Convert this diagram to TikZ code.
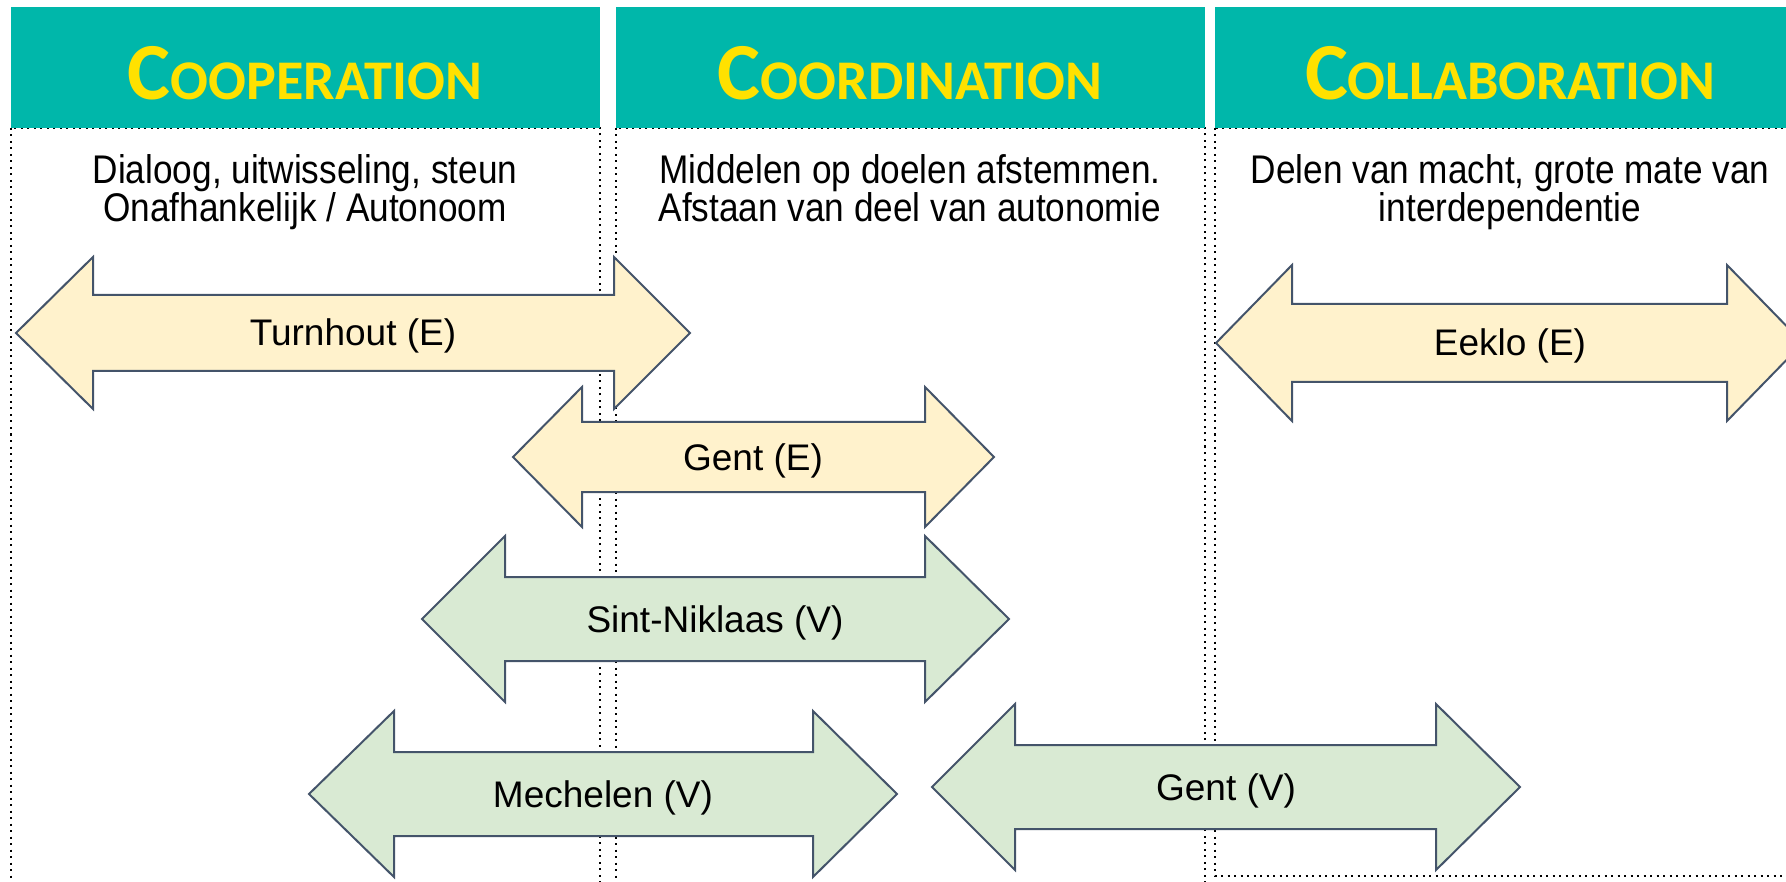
\documentclass[tikz,border=0pt]{standalone}
\usepackage{fontspec}
\setmainfont{Liberation Sans}
\newfontfamily\titlefont{Carlito}
\newfontfamily\subfont[FakeStretch=0.88]{Liberation Sans}
\definecolor{hdrteal}{HTML}{00B7AA}
\definecolor{ttlyellow}{HTML}{FFE100}
\definecolor{arryellow}{HTML}{FFF2CC}
\definecolor{arrgreen}{HTML}{D9EAD3}
\definecolor{arrline}{HTML}{44546A}
\newcommand\dblarrow[8]{%
  \draw[#1] (#2,#6) -- (#3,#6-#7) -- (#3,#6-#8) -- (#4,#6-#8) -- (#4,#6-#7) -- (#5,#6)
    -- (#4,#6+#7) -- (#4,#6+#8) -- (#3,#6+#8) -- (#3,#6+#7) -- cycle;}
\begin{document}
\begin{tikzpicture}[x=1pt,y=-1pt,
  hdr/.style={fill=hdrteal,draw=none,inner sep=0pt,anchor=north west},
  colbox/.style={draw=black,line width=2pt,dash pattern=on 2pt off 4.5pt},
  yarr/.style={fill=arryellow,draw=arrline,line width=2pt,line join=miter},
  garr/.style={fill=arrgreen,draw=arrline,line width=2pt,line join=miter},
  lbl/.style={font=\fontsize{37}{40}\selectfont,anchor=base,inner sep=0pt},
  ttl/.style={text=ttlyellow,anchor=base,inner sep=0pt,font=\titlefont\bfseries},
  sub/.style={font=\subfont\fontsize{40}{42}\selectfont,anchor=base,inner sep=0pt}]
\useasboundingbox (0,0) rectangle (1786,882);
\begin{scope}
\clip (0,0) rectangle (1786,882);
% column boxes
\draw[colbox] (11,128) rectangle (600,900);
\draw[colbox] (616,128) rectangle (1205,900);
\draw[colbox] (1215,128) rectangle (1830,876);
% headers
\node[hdr,minimum width=589pt,minimum height=121pt] (h1) at (11,7) {};
\node[hdr,minimum width=589pt,minimum height=121pt] (h2) at (616,7) {};
\node[hdr,minimum width=610pt,minimum height=121pt] (h3) at (1215,7) {};
\node[ttl] (t1) at (305,100) {\fontsize{81}{84}\selectfont C\fontsize{56}{58}\selectfont OOPERATION};
\node[ttl] (t2) at (910,100) {\fontsize{81}{84}\selectfont C\fontsize{56}{58}\selectfont OORDINATION};
\node[ttl] (t3) at (1510,100) {\fontsize{81}{84}\selectfont C\fontsize{56}{58}\selectfont OLLABORATION};
% sub texts
\node[sub] (s1a) at (305,184) {Dialoog, uitwisseling, steun};
\node[sub] (s1b) at (305,222) {Onafhankelijk / Autonoom};
\node[sub] (s2a) at (910,184) {Middelen op doelen afstemmen.};
\node[sub] (s2b) at (910,222) {Afstaan van deel van autonomie};
\node[sub] (s3a) at (1510,184) {Delen van macht, grote mate van};
\node[sub] (s3b) at (1510,222) {interdependentie};
% arrows
\dblarrow{yarr}{16}{93}{614}{690}{333}{76}{38}
\node[lbl] (turnhout) at (353,346) {Turnhout (E)};
\dblarrow{yarr}{513}{582}{925}{994}{457}{70}{35}
\node[lbl] (gente) at (753,470) {Gent (E)};
\dblarrow{garr}{422}{505}{925}{1009}{619}{83}{42}
\node[lbl] (sintniklaas) at (715,632) {Sint-Niklaas (V)};
\dblarrow{garr}{309}{394}{813}{897}{794}{83}{42}
\node[lbl] (mechelen) at (603,807) {Mechelen (V)};
\dblarrow{garr}{932}{1015}{1436}{1520}{787}{83}{42}
\node[lbl] (gentv) at (1226,800) {Gent (V)};
\dblarrow{yarr}{1216}{1292}{1727}{1803}{343}{78}{39}
\node[lbl] (eeklo) at (1510,356) {Eeklo (E)};
\end{scope}
\end{tikzpicture}
\end{document}
